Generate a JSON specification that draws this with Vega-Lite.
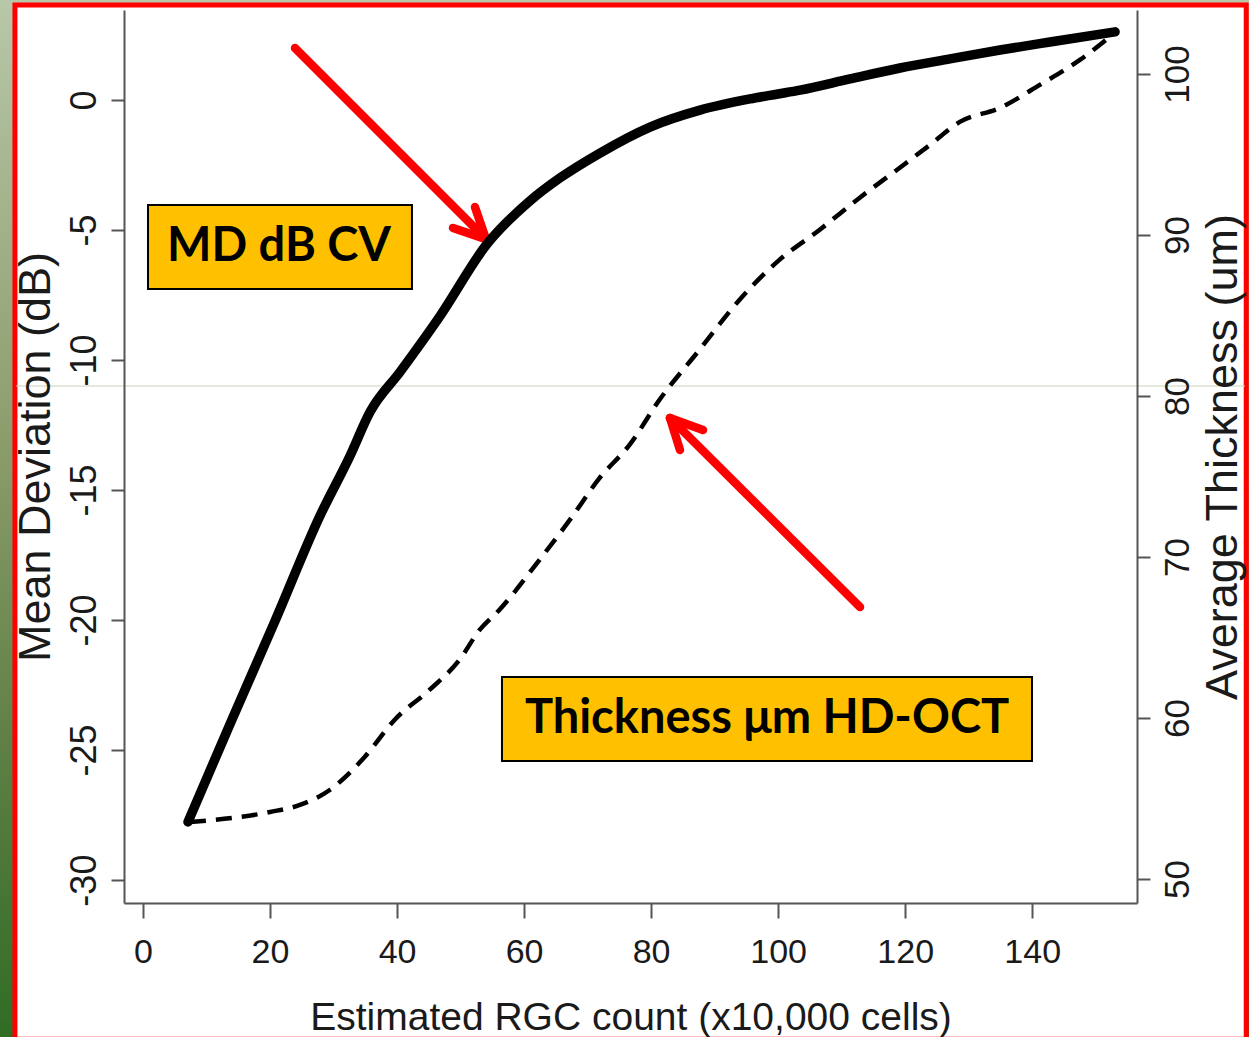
{
  "$schema": "https://vega.github.io/schema/vega-lite/v6.json",
  "width": 1013,
  "height": 893,
  "autosize": {"type": "none"},
  "padding": {"left": 124, "top": 10, "right": 112, "bottom": 134},
  "background": "#ffffff",
  "config": {
    "view": {"stroke": null},
    "axis": {
      "domainColor": "#555555",
      "domainWidth": 2,
      "tickColor": "#555555",
      "tickWidth": 2,
      "labelColor": "#1a1a1a",
      "titleColor": "#1a1a1a",
      "titleFontWeight": "normal",
      "grid": false,
      "labelFlush": false,
      "labelOverlap": false
    }
  },
  "datasets": {
    "md": [
      {"rgc": 7.09, "md": -27.76},
      {"rgc": 13.7, "md": -24.0},
      {"rgc": 20.78, "md": -20.04},
      {"rgc": 27.87, "md": -15.99},
      {"rgc": 32.59, "md": -13.69},
      {"rgc": 35.74, "md": -12.0},
      {"rgc": 40.46, "md": -10.46},
      {"rgc": 46.76, "md": -8.31},
      {"rgc": 54.16, "md": -5.54},
      {"rgc": 60.93, "md": -3.88},
      {"rgc": 65.65, "md": -3.0},
      {"rgc": 71.95, "md": -2.04},
      {"rgc": 79.83, "md": -1.04},
      {"rgc": 87.7, "md": -0.39},
      {"rgc": 95.57, "md": 0.04},
      {"rgc": 99.98, "md": 0.23},
      {"rgc": 103.44, "md": 0.38},
      {"rgc": 111.31, "md": 0.81},
      {"rgc": 119.19, "md": 1.23},
      {"rgc": 127.06, "md": 1.58},
      {"rgc": 134.93, "md": 1.92},
      {"rgc": 142.8, "md": 2.23},
      {"rgc": 153.04, "md": 2.62}
    ],
    "thick": [
      {"rgc": 7.4, "thickness": 53.54},
      {"rgc": 20.0, "thickness": 54.16},
      {"rgc": 24.7, "thickness": 54.6},
      {"rgc": 29.4, "thickness": 55.53},
      {"rgc": 34.9, "thickness": 57.58},
      {"rgc": 39.6, "thickness": 59.88},
      {"rgc": 45.1, "thickness": 61.74},
      {"rgc": 49.8, "thickness": 63.6},
      {"rgc": 53.0, "thickness": 65.47},
      {"rgc": 56.1, "thickness": 66.71},
      {"rgc": 62.4, "thickness": 69.81},
      {"rgc": 67.2, "thickness": 72.3},
      {"rgc": 71.9, "thickness": 74.91},
      {"rgc": 76.6, "thickness": 76.96},
      {"rgc": 81.3, "thickness": 79.75},
      {"rgc": 87.6, "thickness": 82.86},
      {"rgc": 93.9, "thickness": 85.96},
      {"rgc": 100.2, "thickness": 88.45},
      {"rgc": 106.5, "thickness": 90.31},
      {"rgc": 112.8, "thickness": 92.3},
      {"rgc": 119.1, "thickness": 94.16},
      {"rgc": 123.9, "thickness": 95.59},
      {"rgc": 128.6, "thickness": 97.02},
      {"rgc": 134.9, "thickness": 97.89},
      {"rgc": 141.2, "thickness": 99.32},
      {"rgc": 147.5, "thickness": 100.87},
      {"rgc": 153.0, "thickness": 102.55}
    ],
    "boxes": [
      {"x": 0.79, "x2": 42.35, "y": -4.04, "y2": -7.27, "tx": 21.41, "ty": -5.65, "label": "MD dB CV"},
      {"x": 56.52, "x2": 139.97, "y": -22.19, "y2": -25.42, "tx": 98.25, "ty": -23.8, "label": "Thickness μm HD-OCT"}
    ],
    "arrows": [
      {"x": 23.93, "y": 2.0, "x2": 54.0, "y2": -5.35},
      {"x": 52.27, "y": -4.12, "x2": 54.0, "y2": -5.35},
      {"x": 48.81, "y": -4.92, "x2": 54.0, "y2": -5.35},
      {"x": 112.89, "y": -19.5, "x2": 82.97, "y2": -12.23},
      {"x": 88.17, "y": -12.69, "x2": 82.97, "y2": -12.23},
      {"x": 84.55, "y": -13.46, "x2": 82.97, "y2": -12.23}
    ]
  },
  "layer": [
    {
      "data": {"values": [{}]},
      "mark": {
        "type": "rect",
        "fill": {
          "gradient": "linear",
          "x1": 0, "y1": 0, "x2": 0, "y2": 1,
          "stops": [
            {"offset": 0, "color": "#b9c8a9"},
            {"offset": 0.4, "color": "#8e9e6e"},
            {"offset": 0.7, "color": "#5e7f45"},
            {"offset": 1, "color": "#2b6a1f"}
          ]
        }
      },
      "encoding": {
        "x": {"datum": -24, "type": "quantitative", "scale": {"domain": [-2.99, 156.5], "nice": false, "zero": false}, "axis": null},
        "x2": {"datum": 178},
        "y": {"datum": 4.2, "type": "quantitative", "scale": {"domain": [-30.88, 3.46], "nice": false, "zero": false}, "axis": null},
        "y2": {"datum": -37.5}
      }
    },
    {
      "data": {"values": [{}]},
      "mark": {"type": "rect", "fill": "#ffffff", "stroke": "#ff0000", "strokeWidth": 5},
      "encoding": {
        "x": {"datum": -20.16, "type": "quantitative", "scale": {"domain": [-2.99, 156.5], "nice": false, "zero": false}, "axis": null},
        "x2": {"datum": 173.7},
        "y": {"datum": 3.65, "type": "quantitative", "scale": {"domain": [-30.88, 3.46], "nice": false, "zero": false}, "axis": null},
        "y2": {"datum": -36.12}
      }
    },
    {
      "data": {"values": [{}]},
      "mark": {"type": "rule", "stroke": "#c9d2ba", "strokeWidth": 1},
      "encoding": {
        "x": {"datum": -20, "type": "quantitative", "scale": {"domain": [-2.99, 156.5], "nice": false, "zero": false}, "axis": null},
        "x2": {"datum": 173.5},
        "y": {"datum": -11.0, "type": "quantitative", "scale": {"domain": [-30.88, 3.46], "nice": false, "zero": false}, "axis": null}
      }
    },
    {
      "data": {"name": "boxes"},
      "mark": {"type": "rect", "fill": "#ffc000", "stroke": "#000000", "strokeWidth": 2},
      "encoding": {
        "x": {"field": "x", "type": "quantitative", "scale": {"domain": [-2.99, 156.5], "nice": false, "zero": false}, "axis": null},
        "x2": {"field": "x2"},
        "y": {"field": "y", "type": "quantitative", "scale": {"domain": [-30.88, 3.46], "nice": false, "zero": false}, "axis": null},
        "y2": {"field": "y2"}
      }
    },
    {
      "data": {"name": "boxes"},
      "mark": {"type": "text", "font": "Lato", "fontWeight": "bold", "fontSize": 47, "color": "#000000", "align": "center", "baseline": "middle"},
      "encoding": {
        "x": {"field": "tx", "type": "quantitative", "scale": {"domain": [-2.99, 156.5], "nice": false, "zero": false}, "axis": null},
        "y": {"field": "ty", "type": "quantitative", "scale": {"domain": [-30.88, 3.46], "nice": false, "zero": false}, "axis": null},
        "text": {"field": "label"}
      }
    },
    {
      "data": {"name": "arrows"},
      "mark": {"type": "rule", "stroke": "#ff0000", "strokeWidth": 8.5, "strokeCap": "round"},
      "encoding": {
        "x": {"field": "x", "type": "quantitative", "scale": {"domain": [-2.99, 156.5], "nice": false, "zero": false}, "axis": null},
        "x2": {"field": "x2"},
        "y": {"field": "y", "type": "quantitative", "scale": {"domain": [-30.88, 3.46], "nice": false, "zero": false}, "axis": null},
        "y2": {"field": "y2"}
      }
    },
    {
      "data": {"name": "md"},
      "mark": {"type": "line", "stroke": "#000000", "strokeWidth": 9.5, "strokeCap": "round", "strokeJoin": "round", "interpolate": "monotone"},
      "encoding": {
        "x": {
          "field": "rgc", "type": "quantitative",
          "scale": {"domain": [-2.99, 156.5], "nice": false, "zero": false},
          "axis": {
            "zindex": 1,
            "orient": "bottom",
            "values": [0, 20, 40, 60, 80, 100, 120, 140],
            "tickSize": 15,
            "labelFont": "Liberation Sans",
            "labelFontSize": 34,
            "labelPadding": 17,
            "title": "Estimated RGC count (x10,000 cells)",
            "titleFont": "Liberation Sans",
            "titleFontSize": 39,
            "titleBaseline": "alphabetic",
            "titlePadding": 60
          }
        },
        "y": {
          "field": "md", "type": "quantitative",
          "scale": {"domain": [-30.88, 3.46], "nice": false, "zero": false},
          "axis": {
            "zindex": 1,
            "orient": "left",
            "values": [-30, -25, -20, -15, -10, -5, 0],
            "labelExpr": "datum.value < 0 ? '-' + abs(datum.value) : '' + datum.value",
            "tickSize": 13,
            "labelAngle": 270,
            "labelAlign": "center",
            "labelBaseline": "alphabetic",
            "labelPadding": 16,
            "labelFont": "Liberation Sans",
            "labelFontSize": 36,
            "title": "Mean Deviation (dB)",
            "titleFont": "Liberation Sans",
            "titleFontSize": 45,
            "titlePadding": 8
          }
        }
      }
    },
    {
      "data": {"name": "thick"},
      "mark": {"type": "line", "stroke": "#000000", "strokeWidth": 4.5, "strokeDash": [16, 10], "interpolate": "monotone"},
      "encoding": {
        "x": {"field": "rgc", "type": "quantitative", "scale": {"domain": [-2.99, 156.5], "nice": false, "zero": false}, "axis": null},
        "y": {
          "field": "thickness", "type": "quantitative",
          "scale": {"domain": [48.51, 103.97], "nice": false, "zero": false},
          "axis": {
            "zindex": 1,
            "orient": "right",
            "values": [50, 60, 70, 80, 90, 100],
            "tickSize": 13,
            "labelAngle": 270,
            "labelAlign": "center",
            "labelBaseline": "top",
            "labelPadding": 10,
            "labelFont": "Liberation Sans",
            "labelFontSize": 35,
            "title": "Average Thickness (um)",
            "titleFont": "Liberation Sans",
            "titleFontSize": 45,
            "titleAngle": 270,
            "titleBaseline": "top",
            "titlePadding": 5
          }
        }
      }
    }
  ],
  "resolve": {"scale": {"x": "independent", "y": "independent"}}
}
